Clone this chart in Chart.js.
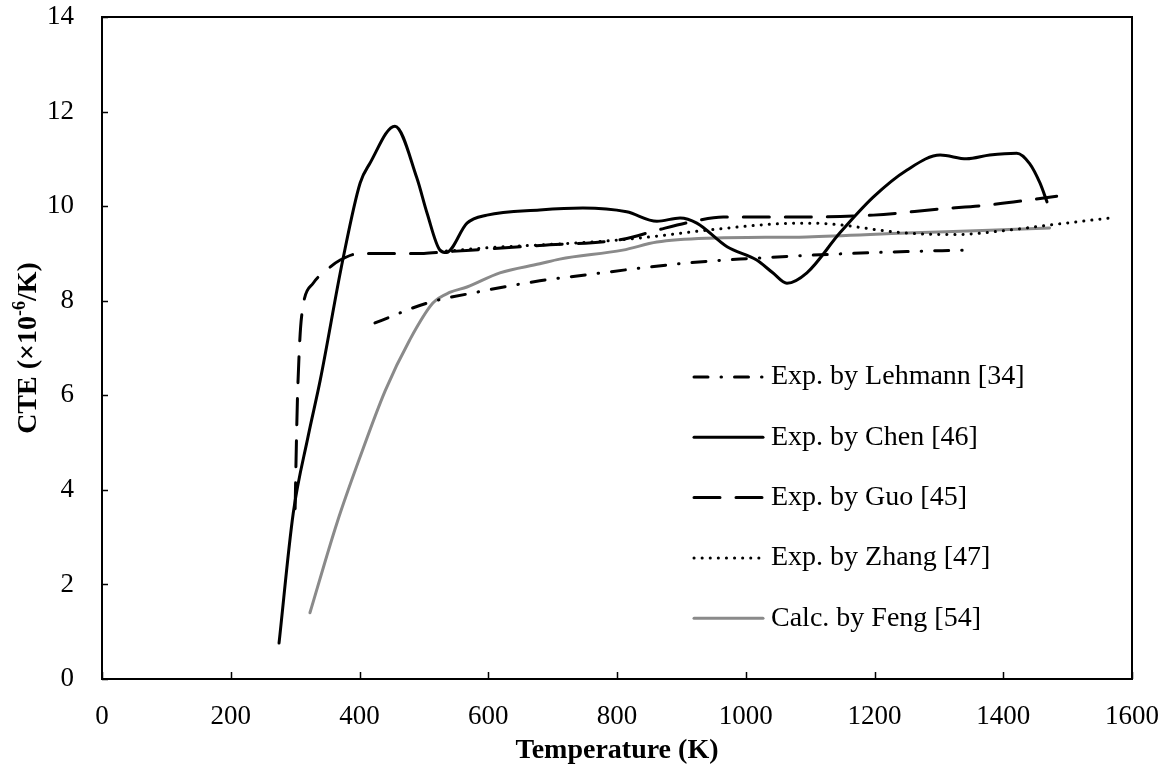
<!DOCTYPE html>
<html>
<head>
<meta charset="utf-8">
<script src="https://cdn.jsdelivr.net/npm/chart.js@4.4.1/dist/chart.umd.min.js"></script>
<style>
  html, body { margin: 0; padding: 0; background: #fff; }
  #wrap { width: 1169px; height: 774px; }
</style>
</head>
<body>
<div id="wrap"><canvas id="c" width="1169" height="774"></canvas></div>
<script>
// ---- Data ----
const seriesNames = ["Exp. by Lehmann [34]", "Exp. by Chen [46]", "Exp. by Guo [45]", "Exp. by Zhang [47]", "Calc. by Feng [54]"];

const lehmannT = [424, 505, 582, 680, 760, 836, 910, 991, 1146, 1250, 1343];
const lehmannCTE = [7.53, 7.95, 8.18, 8.42, 8.56, 8.69, 8.80, 8.88, 8.99, 9.04, 9.07];

const chenT = [275, 297, 320, 339, 374, 401, 416, 455, 489, 505, 525, 535, 567, 598, 680, 747, 815, 862, 898, 924, 971, 1017, 1042, 1064, 1095, 1146, 1198, 1250, 1302, 1343, 1379, 1421, 1441, 1457, 1468];
const chenCTE = [0.76, 3.5, 5.12, 6.32, 8.86, 10.49, 10.9, 11.69, 10.6, 9.85, 9.07, 9.02, 9.64, 9.81, 9.92, 9.96, 9.88, 9.68, 9.75, 9.64, 9.14, 8.86, 8.59, 8.37, 8.59, 9.43, 10.19, 10.76, 11.08, 11.0, 11.08, 11.12, 10.9, 10.49, 10.09];

const guoT = [300, 302, 304, 310, 328, 349, 370, 401, 452, 500, 530, 607, 680, 809, 862, 913, 965, 1095, 1198, 1302, 1375, 1483];
const guoCTE = [3.6, 5.0, 6.1, 7.66, 8.37, 8.65, 8.86, 9.0, 9.0, 9.0, 9.03, 9.1, 9.17, 9.30, 9.49, 9.66, 9.77, 9.77, 9.81, 9.94, 10.02, 10.21];

const zhangT = [535, 600, 680, 760, 831, 939, 1042, 1100, 1150, 1198, 1250, 1328, 1400, 1472, 1566];
const zhangCTE = [9.05, 9.12, 9.18, 9.24, 9.32, 9.49, 9.62, 9.64, 9.60, 9.51, 9.43, 9.40, 9.48, 9.60, 9.75];

const fengT = [323, 365, 401, 440, 478, 514, 541, 567, 618, 680, 711, 809, 862, 939, 1095, 1250, 1379, 1472];
const fengCTE = [1.40, 3.30, 4.70, 6.10, 7.17, 7.95, 8.18, 8.29, 8.59, 8.78, 8.88, 9.07, 9.24, 9.32, 9.35, 9.43, 9.49, 9.54];

const xTicks = [0, 200, 400, 600, 800, 1000, 1200, 1400, 1600];
const yTicks = [0, 2, 4, 6, 8, 10, 12, 14];

const xTitle = "Temperature (K)";
const yTitleParts = ["CTE (\u00D710", "-6", "/K)"];

// ---- build ----
function pts(xs, ys) { return xs.map((x, i) => ({ x: x, y: ys[i] })); }

const FONT = '"Liberation Serif", "Times New Roman", serif';
Chart.defaults.font.family = FONT;
Chart.defaults.color = '#000';

const common = { pointRadius: 0, pointHoverRadius: 0, fill: false, cubicInterpolationMode: 'monotone', borderJoinStyle: 'round' };

const datasets = [
  Object.assign({}, common, { label: seriesNames[0], data: pts(lehmannT, lehmannCTE), borderColor: '#000', borderWidth: 3, borderDash: [14, 13, 0.5, 13], borderCapStyle: 'round' }),
  Object.assign({}, common, { label: seriesNames[1], data: pts(chenT, chenCTE), borderColor: '#000', borderWidth: 3, borderCapStyle: 'round' }),
  Object.assign({}, common, { label: seriesNames[2], data: pts(guoT, guoCTE), borderColor: '#000', borderWidth: 3, borderDash: [26, 16], borderCapStyle: 'round' }),
  Object.assign({}, common, { label: seriesNames[3], data: pts(zhangT, zhangCTE), borderColor: '#000', borderWidth: 3, borderDash: [0.1, 8], borderCapStyle: 'round' }),
  Object.assign({}, common, { label: seriesNames[4], data: pts(fengT, fengCTE), borderColor: '#8a8a8a', borderWidth: 3, borderCapStyle: 'round' })
];

const decor = {
  id: 'decor',
  afterDraw(chart) {
    const ctx = chart.ctx;
    const a = chart.chartArea;
    const xs = chart.scales.x, ys = chart.scales.y;
    ctx.save();
    // box
    ctx.strokeStyle = '#000';
    ctx.lineWidth = 2;
    ctx.strokeRect(a.left, a.top, a.right - a.left, a.bottom - a.top);
    // inward ticks
    ctx.lineWidth = 1.5;
    ctx.beginPath();
    xTicks.forEach(v => {
      const px = Math.round(xs.getPixelForValue(v)) + 0.5;
      ctx.moveTo(px, a.bottom); ctx.lineTo(px, a.bottom - 7);
    });
    yTicks.forEach(v => {
      const py = Math.round(ys.getPixelForValue(v)) + 0.5;
      ctx.moveTo(a.left, py); ctx.lineTo(a.left + 6, py);
    });
    ctx.stroke();

    // tick labels
    ctx.fillStyle = '#000';
    ctx.font = '27px ' + FONT;
    ctx.textBaseline = 'middle';
    ctx.textAlign = 'center';
    xTicks.forEach(v => ctx.fillText(String(v), xs.getPixelForValue(v), a.bottom + 38));
    ctx.textAlign = 'right';
    yTicks.forEach(v => ctx.fillText(String(v), a.left - 28, ys.getPixelForValue(v)));

    // legend inside plot
    const lx0 = 694, lx1 = 763, tx = 771, ly0 = 377, dy = 60.3;
    chart.data.datasets.forEach((ds, i) => {
      const y = ly0 + i * dy;
      ctx.save();
      ctx.strokeStyle = ds.borderColor;
      ctx.lineWidth = ds.borderWidth;
      ctx.lineCap = ds.borderCapStyle || 'butt';
      ctx.setLineDash(ds.borderDash || []);
      ctx.beginPath();
      ctx.moveTo(lx0, y); ctx.lineTo(lx1, y);
      ctx.stroke();
      ctx.restore();
      ctx.fillStyle = '#000';
      ctx.font = '28px ' + FONT;
      ctx.textBaseline = 'middle';
      ctx.textAlign = 'left';
      ctx.fillText(ds.label, tx, y);
    });

    // x title
    ctx.fillStyle = '#000';
    ctx.font = 'bold 28px ' + FONT;
    ctx.textAlign = 'center';
    ctx.textBaseline = 'middle';
    ctx.fillText(xTitle, (a.left + a.right) / 2, 751);

    // y title with superscript
    ctx.save();
    ctx.translate(27, (a.top + a.bottom) / 2);
    ctx.rotate(-Math.PI / 2);
    const fMain = 'bold 28px ' + FONT, fSup = 'bold 18px ' + FONT;
    ctx.font = fMain; const w0 = ctx.measureText(yTitleParts[0]).width;
    ctx.font = fSup; const w1 = ctx.measureText(yTitleParts[1]).width;
    ctx.font = fMain; const w2 = ctx.measureText(yTitleParts[2]).width;
    let x = -(w0 + w1 + w2) / 2;
    ctx.textAlign = 'left';
    ctx.textBaseline = 'alphabetic';
    ctx.font = fMain; ctx.fillText(yTitleParts[0], x, 9); x += w0;
    ctx.font = fSup; ctx.fillText(yTitleParts[1], x, -2); x += w1;
    ctx.font = fMain; ctx.fillText(yTitleParts[2], x, 9);
    ctx.restore();

    ctx.restore();
  }
};

new Chart(document.getElementById('c'), {
  type: 'line',
  data: { datasets: datasets },
  options: {
    responsive: false,
    animation: false,
    layout: { padding: { top: 17, right: 37, left: 0, bottom: 0 } },
    plugins: { legend: { display: false }, tooltip: { enabled: false } },
    scales: {
      x: {
        type: 'linear', min: 0, max: 1600,
        afterBuildTicks: s => { s.ticks = xTicks.map(v => ({ value: v })); },
        afterFit: s => { s.height = 95; },
        grid: { display: false, drawTicks: false },
        border: { display: false },
        ticks: { display: false }
      },
      y: {
        type: 'linear', min: 0, max: 14,
        afterBuildTicks: s => { s.ticks = yTicks.map(v => ({ value: v })); },
        afterFit: s => { s.width = 102; },
        grid: { display: false, drawTicks: false },
        border: { display: false },
        ticks: { display: false }
      }
    }
  },
  plugins: [decor]
});
</script>
</body>
</html>
